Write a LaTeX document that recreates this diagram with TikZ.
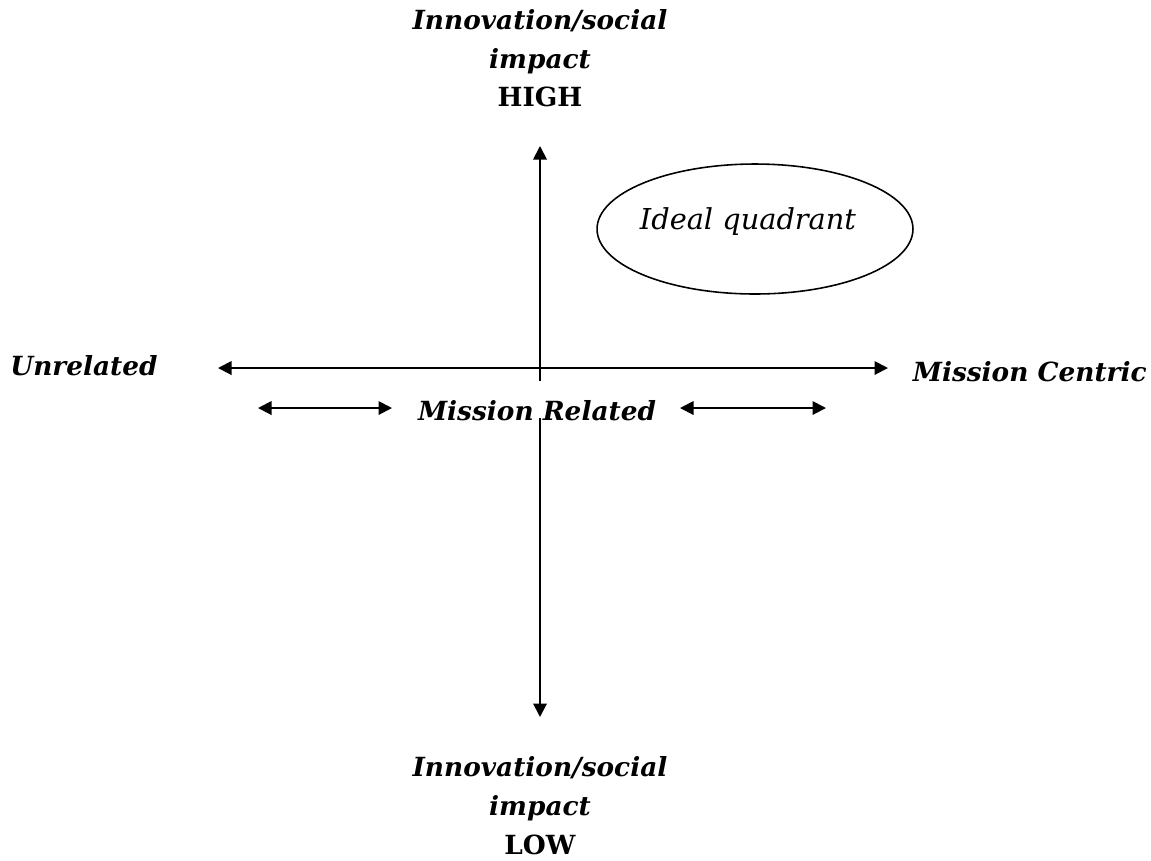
\documentclass[tikz,border=0pt]{standalone}
\usepackage{fontspec}
\setmainfont{DejaVu Serif}
\usetikzlibrary{positioning, arrows.meta, shapes}

\begin{document}
\begin{tikzpicture}[
    % one unit = one pixel of the 1151x860 frame
    x=0.02cm, y=-0.02cm,
    >={Triangle[length=0.27cm, width=0.27cm]},
    lbl/.style={font=\bfseries\itshape\fontsize{15}{22}\selectfont, align=center, inner sep=0pt},
    axis/.style={line width=1.1pt, ->},
    twoway/.style={line width=1.1pt, <->}
]
\useasboundingbox (0,0) rectangle (1151,860);
% Axis labels
\node (high) [lbl, anchor=north] at (540,9) {Innovation/social\\impact\\\upshape HIGH};
\node (low) [lbl, anchor=south] at (540,855) {Innovation/social\\impact\\\upshape LOW};
\node (unrel) [lbl, anchor=west] at (10,366) {Unrelated};
\node (centric) [lbl, anchor=east] at (1147,372) {Mission Centric};
\node (related) [lbl] at (537,411) {Mission Related};
% Ideal quadrant
\node (ideal) [ellipse, draw, line width=0.9pt, minimum width=6.32cm, minimum height=2.6cm] at (755,229) {};
\node (idealtxt) [font=\itshape\fontsize{16.4}{19}\selectfont, inner sep=0pt] at (748,222) {Ideal quadrant};
% Axes
\coordinate (vtop) at (540,146);
\coordinate (vmid) at (540,381);
\coordinate (vlow) at (540,418);
\coordinate (vbot) at (540,717);
\coordinate (hleft) at (218,368);
\coordinate (hright) at (888,368);
\draw [axis] (vmid) -- (vtop);
\draw [axis] (vlow) -- (vbot);
\draw [twoway] (hleft) -- (hright);
% Mission related range
\coordinate (rl1) at (258,408);
\coordinate (rl2) at (392,408);
\coordinate (rr1) at (680,408);
\coordinate (rr2) at (826,408);
\draw [twoway] (rl1) -- (rl2);
\draw [twoway] (rr1) -- (rr2);
\end{tikzpicture}
\end{document}
